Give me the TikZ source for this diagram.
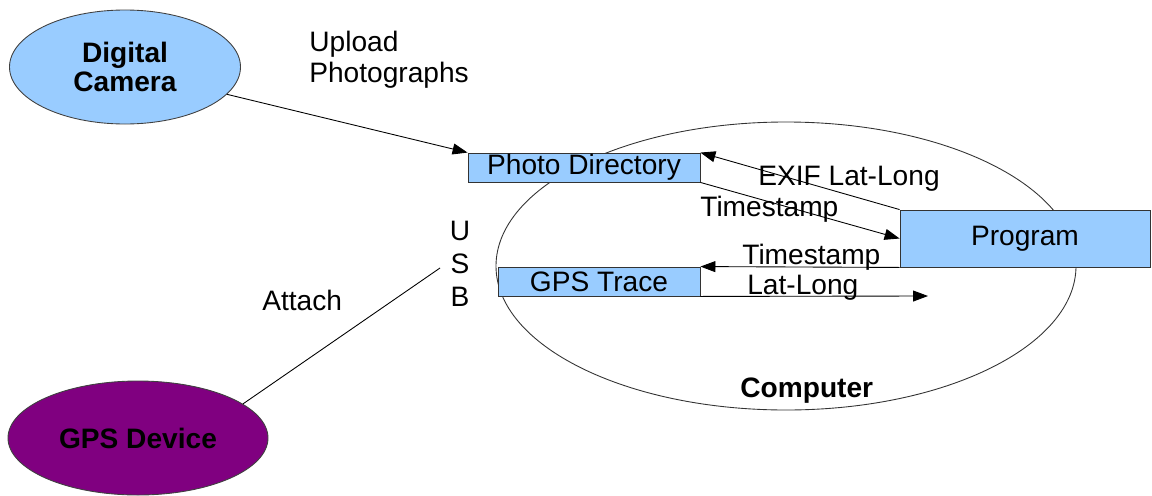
\documentclass[tikz,border=0pt]{standalone}
\usepackage{fontspec}
\setmainfont{Liberation Sans}
\usetikzlibrary{shapes.geometric,arrows.meta}

\definecolor{boxblue}{HTML}{99CCFF}
\definecolor{devpurple}{HTML}{800080}

\begin{document}
\begin{tikzpicture}[
    >={Triangle[length=3mm,width=2.2mm]},
    every node/.style={font=\fontsize{16}{18}\selectfont},
    device/.style={ellipse,draw=black!75,line width=0.5pt,inner sep=0pt,align=center,
                   font=\fontsize{16}{17}\selectfont\bfseries},
    store/.style={rectangle,draw=black!80,line width=0.5pt,fill=boxblue,inner sep=0pt,
                  minimum height=0.58cm},
    flow/.style={->,line width=0.5pt},
    lbl/.style={inner sep=0pt,anchor=base west}
  ]
    \useasboundingbox (0,0) rectangle (23.04,-9.9);

    % Nodes
    \node (comp) at (15.72,-5.32) [ellipse,draw=black!80,line width=0.5pt,
        minimum width=11.6cm,minimum height=5.76cm] {};
    \node (cam) at (2.5,-1.34) [device,fill=boxblue,minimum width=4.62cm,minimum height=2.28cm] {Digital\\Camera};
    \node (gps) at (2.76,-8.76) [device,fill=devpurple,minimum width=5.2cm,minimum height=2.28cm] {GPS Device};
    \node (pd) at (11.68,-3.35) [store,minimum width=4.64cm] {Photo Directory};
    \node (gt) at (11.98,-5.63) [store,minimum width=4.04cm] {GPS Trace};
    \node (prog) at (20.5,-4.77) [store,minimum width=5cm,minimum height=1.14cm] {Program};
    \coordinate (usb) at (8.8,-5.36);
    \coordinate (ll) at (18.56,-5.92);

    % Labels
    \node (upl) at (6.18,-1.2) [anchor=west,align=left,inner sep=0pt,
        font=\fontsize{16}{17.6}\selectfont] {Upload\\Photographs};
    \node (exif) at (15.16,-3.70) [lbl] {EXIF Lat-Long};
    \node (ts1) at (14.0,-4.32) [lbl] {Timestamp};
    \node (ts2) at (14.84,-5.28) [lbl] {Timestamp};
    \node (latlong) at (14.94,-5.88) [lbl] {Lat-Long};
    \node (att) at (5.24,-6.2) [lbl] {Attach};
    \node (usbtxt) at (9.2,-5.27) [align=center,inner sep=0pt,
        font=\fontsize{16}{18.7}\selectfont] {U\\S\\B};
    \node (complbl) at (14.8,-7.94) [lbl,font=\fontsize{16}{18}\selectfont\bfseries] {Computer};

    % Flows
    \path[flow] (cam.-15) edge (pd.north west);
    \path[flow] (prog.north west) edge (pd.north east);
    \path[flow] (pd.south east) edge (prog.west);
    \path[flow] (prog.south west) edge (gt.north east);
    \path[flow] (gt.south east) edge (ll);
    \path[line width=0.5pt] (gps.18) edge (usb);
\end{tikzpicture}
\end{document}
